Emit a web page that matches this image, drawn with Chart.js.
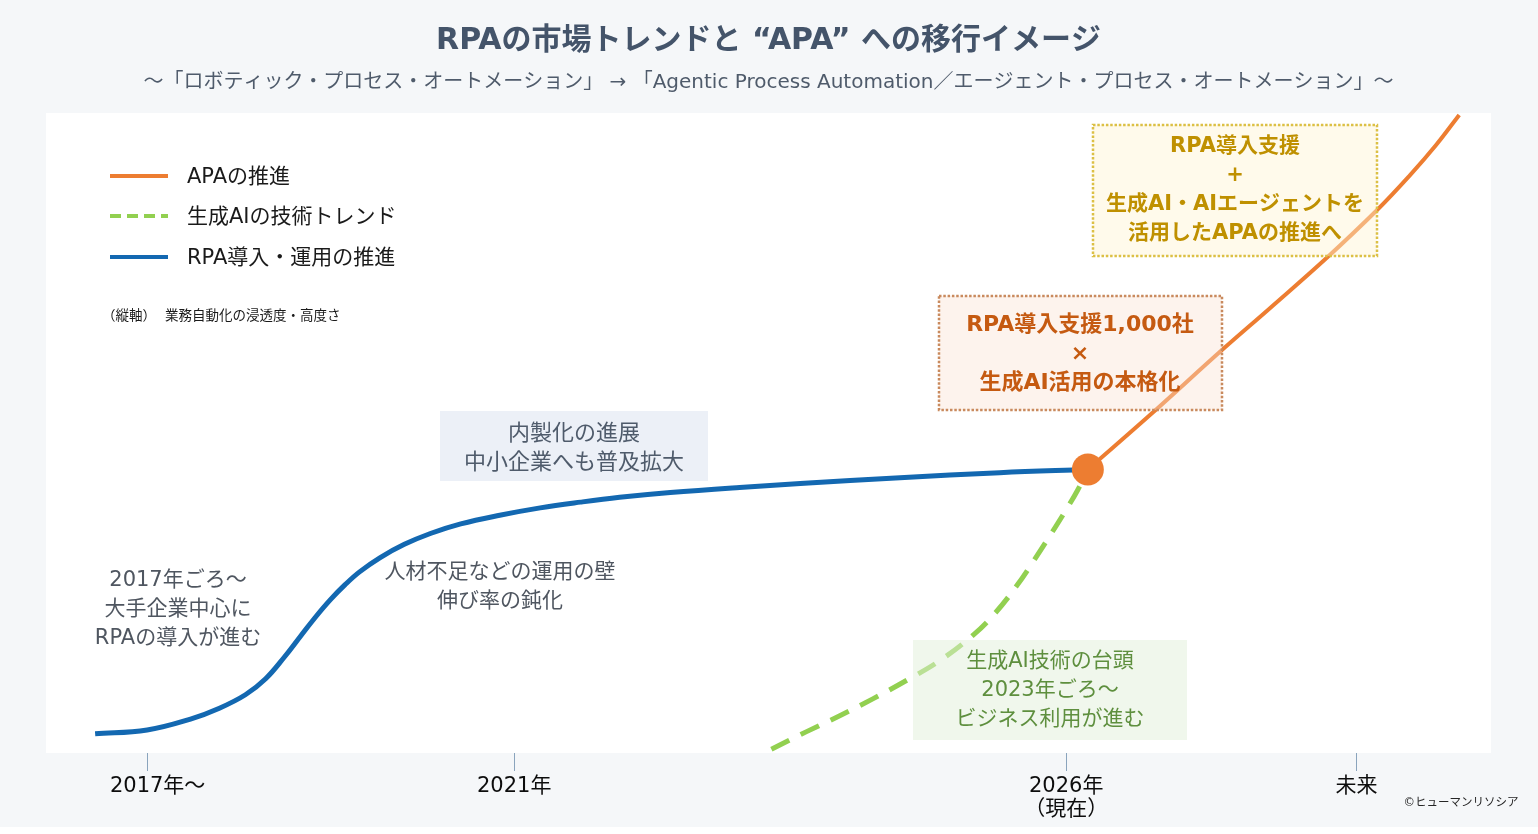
<!DOCTYPE html>
<html><head><meta charset="utf-8">
<script src="https://cdn.jsdelivr.net/npm/chart.js@4.4.1/dist/chart.umd.min.js"></script>
<style>html,body{margin:0;padding:0;background:#f5f7f9;}canvas{display:block}</style>
</head><body>
<canvas id="c" width="1538" height="834" style="width:1538px;height:834px"></canvas>
<script>
// ---- text ----
const TITLE = 'RPAの市場トレンドと “APA” への移行イメージ';
const SUBTITLE = '～「ロボティック・プロセス・オートメーション」 → 「Agentic Process Automation／エージェント・プロセス・オートメーション」～';
const AXIS_NOTE = ['（縦軸）', '業務自動化の浸透度・高度さ'];
const COPYRIGHT = '©ヒューマンリソシア';

// ---- x axis (conceptual timeline, 0..100) ----
const tickValues = [7, 32.4, 70.6, 90.7];
const tickLabels = ['\u30002017年～', '2021年', ['2026年', '（現在）'], '未来'];

// ---- series ----
const seriesNames = ['APAの推進', '生成AIの技術トレンド', 'RPA導入・運用の推進'];

const rpaX = [3.4, 7.0, 10.0, 12.0, 13.8, 15.2, 16.5, 17.6, 18.6, 19.7, 20.7, 21.7, 23.1, 24.8, 26.6, 28.7, 31.4, 34.2, 37.0, 39.7, 43.2, 48.0, 52.2, 59.1, 66.0, 72.1];
const rpaY = [3.0, 3.6, 5.3, 7.0, 9.1, 11.6, 15.0, 18.2, 21.1, 24.0, 26.3, 28.3, 30.5, 32.6, 34.3, 35.8, 37.15, 38.3, 39.2, 39.95, 40.7, 41.5, 42.1, 43.0, 43.8, 44.3];

const genaiX = [50.2, 52.6, 55.0, 57.25, 59.6, 61.9, 64.2, 65.7, 67.2, 68.4, 69.6, 70.7, 71.4, 72.1];
const genaiY = [0.6, 3.3, 5.9, 8.5, 11.4, 14.5, 18.5, 21.9, 26.2, 30.2, 34.4, 38.4, 41.1, 44.3];

const apaX = [72.1, 76.4, 81.4, 84.7, 88.6, 92.1, 94.4, 96.2, 97.8];
const apaY = [44.3, 52.8, 63.0, 69.5, 77.3, 84.8, 90.3, 95.0, 99.7];

const nowX = [72.1];
const nowY = [44.3];

// ---- annotation texts ----
const noteRpaStart = ['2017年ごろ～', '大手企業中心に', 'RPAの導入が進む'];
const noteWall = ['人材不足などの運用の壁', '伸び率の鈍化'];
const noteInhouse = ['内製化の進展', '中小企業へも普及拡大'];
const noteGenai = ['生成AI技術の台頭', '2023年ごろ～', 'ビジネス利用が進む'];
const noteNow = ['RPA導入支援1,000社', '×', '生成AI活用の本格化'];
const noteFuture = ['RPA導入支援', '+', '生成AI・AIエージェントを', '活用したAPAの推進へ'];

const FONT = '"DejaVu Sans", "Noto Sans CJK JP", sans-serif';
const toPts = (xs, ys) => xs.map((x, i) => ({x, y: ys[i]}));

const annotations = [
  {lines: noteRpaStart, cx: 178, y0: 581, lh: 29, size: 21, color: '#4f5660'},
  {lines: noteWall, cx: 500, y0: 573, lh: 29, size: 21, color: '#4f5660'},
  {box: [440, 411, 268, 70], fill: 'rgba(220,228,240,0.55)', lines: noteInhouse, cx: 574, y0: 434, lh: 29, size: 22, color: '#4f5b6b'},
  {box: [913, 640, 274, 100], fill: 'rgba(226,239,218,0.5)', lines: noteGenai, cx: 1050, y0: 662, lh: 29, size: 21, color: '#5e8f3e'},
  {box: [939, 296, 283, 114], fill: 'rgba(251,226,210,0.4)', stroke: '#c98a5e', lines: noteNow, cx: 1080, y0: 325, lh: 29, size: 22, bold: true, color: '#c55a11'},
  {box: [1093, 125, 284, 131], fill: 'rgba(255,244,210,0.45)', stroke: '#dcc045', lines: noteFuture, cx: 1235, y0: 147, lh: 29, size: 21, bold: true, color: '#bf9000'}
];

const bgPlugin = {
  id: 'bg',
  beforeDraw(chart) {
    const {ctx, chartArea: a, width, height} = chart;
    ctx.save();
    ctx.fillStyle = '#f5f7f9';
    ctx.fillRect(0, 0, width, height);
    ctx.fillStyle = '#ffffff';
    ctx.fillRect(0, 827, width, height - 827);
    ctx.fillRect(a.left, a.top, a.right - a.left, a.bottom - a.top);
    ctx.restore();
  }
};

const annoPlugin = {
  id: 'anno',
  afterDatasetsDraw(chart) {
    const ctx = chart.ctx;
    ctx.save();
    annotations.forEach(an => {
      if (an.box) {
        const [x, y, w, h] = an.box;
        ctx.fillStyle = an.fill;
        ctx.fillRect(x, y, w, h);
        if (an.stroke) {
          ctx.strokeStyle = an.stroke;
          ctx.lineWidth = 2.5;
          ctx.setLineDash([2.5, 1.8]);
          ctx.strokeRect(x, y, w, h);
          ctx.setLineDash([]);
        }
      }
      ctx.font = (an.bold ? 'bold ' : '') + an.size + 'px ' + FONT;
      ctx.fillStyle = an.color;
      ctx.textAlign = 'center';
      ctx.textBaseline = 'middle';
      an.lines.forEach((t, i) => ctx.fillText(t, an.cx, an.y0 + i * an.lh));
    });
    ctx.restore();
  },
  afterDraw(chart) {
    const ctx = chart.ctx;
    ctx.save();
    // legend
    const ys = [176, 216, 257];
    chart.data.datasets.slice(0, 3).forEach((ds, i) => {
      ctx.strokeStyle = ds.borderColor;
      ctx.lineWidth = 4;
      ctx.setLineDash(ds.borderDash && ds.borderDash.length ? [11, 6] : []);
      ctx.beginPath();
      ctx.moveTo(110, ys[i]);
      ctx.lineTo(168, ys[i]);
      ctx.stroke();
      ctx.setLineDash([]);
      ctx.font = '21px ' + FONT;
      ctx.fillStyle = '#1a1a1a';
      ctx.textAlign = 'left';
      ctx.textBaseline = 'middle';
      ctx.fillText(ds.label, 187, ys[i] + 2);
    });
    // axis note
    ctx.font = '13.5px ' + FONT;
    ctx.fillStyle = '#1a1a1a';
    ctx.fillText(AXIS_NOTE[0], 102, 316);
    ctx.fillText(AXIS_NOTE[1], 165, 316);
    // copyright
    ctx.font = '11.5px ' + FONT;
    ctx.fillStyle = '#262626';
    ctx.textAlign = 'center';
    ctx.fillText(COPYRIGHT, 1461, 803);
    ctx.restore();
  }
};

new Chart(document.getElementById('c'), {
  type: 'line',
  data: {
    datasets: [
      {label: seriesNames[0], data: toPts(apaX, apaY), borderColor: '#ed7d31', borderWidth: 4, pointRadius: 0, tension: 0.4, order: 2},
      {label: seriesNames[1], data: toPts(genaiX, genaiY), borderColor: '#92d050', borderWidth: 5, borderDash: [20, 13], pointRadius: 0, tension: 0.4, order: 3},
      {label: seriesNames[2], data: toPts(rpaX, rpaY), borderColor: '#1368b1', borderWidth: 5, pointRadius: 0, tension: 0.4, order: 1},
      {label: 'now', data: toPts(nowX, nowY), showLine: false, pointRadius: 16, pointBackgroundColor: '#ed7d31', pointBorderWidth: 0, order: 0}
    ]
  },
  options: {
    responsive: false,
    animation: false,
    events: [],
    layout: {padding: {left: 46, right: 47, top: 0, bottom: 0}},
    plugins: {
      legend: {display: false},
      tooltip: {enabled: false},
      title: {display: true, text: TITLE, color: '#44546a', font: {family: FONT, size: 30, weight: 'bold', lineHeight: 1.2}, padding: {top: 23, bottom: 12}},
      subtitle: {display: true, text: SUBTITLE, color: '#4f5b6b', font: {family: FONT, size: 20, lineHeight: 1.2}, padding: {top: 0, bottom: 18}}
    },
    scales: {
      x: {
        type: 'linear', min: 0, max: 100,
        afterBuildTicks: s => { s.ticks = tickValues.map(v => ({value: v})); },
        afterFit: s => { s.height = 81; },
        ticks: {
          autoSkip: false, maxRotation: 0, padding: 4,
          color: '#0d0d0d',
          font: {family: FONT, size: 21, lineHeight: 1.1},
          callback: v => tickLabels[tickValues.indexOf(v)]
        },
        grid: {display: true, drawOnChartArea: false, drawTicks: true, tickLength: 18, tickColor: '#8aa4bd', tickWidth: 1},
        border: {display: false}
      },
      y: {type: 'linear', min: 0, max: 100, display: false}
    }
  },
  plugins: [bgPlugin, annoPlugin]
});
</script>
</body></html>
